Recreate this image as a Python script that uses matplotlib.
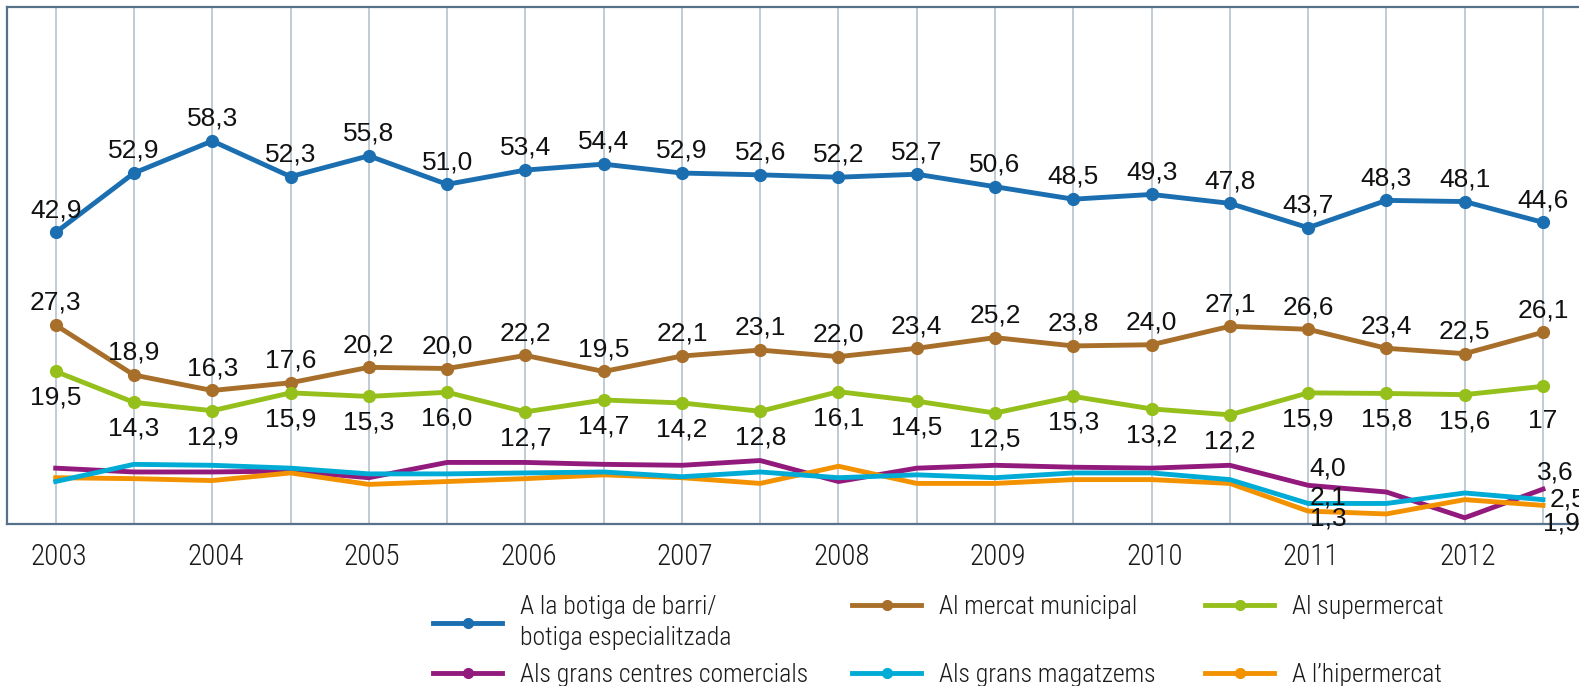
import numpy as np
import matplotlib
matplotlib.use("Agg")
import matplotlib.pyplot as plt
import matplotlib.transforms as mtransforms
from matplotlib.lines import Line2D
import logging
logging.getLogger("matplotlib.font_manager").setLevel(logging.ERROR)

# ---------------- data ----------------
periods = ["2003", "", "2004", "", "2005", "", "2006", "", "2007", "",
           "2008", "", "2009", "", "2010", "", "2011", "", "2012", ""]

botiga = [42.9, 52.9, 58.3, 52.3, 55.8, 51.0, 53.4, 54.4, 52.9, 52.6,
          52.2, 52.7, 50.6, 48.5, 49.3, 47.8, 43.7, 48.3, 48.1, 44.6]
mercat = [27.3, 18.9, 16.3, 17.6, 20.2, 20.0, 22.2, 19.5, 22.1, 23.1,
          22.0, 23.4, 25.2, 23.8, 24.0, 27.1, 26.6, 23.4, 22.5, 26.1]
supermercat = [19.5, 14.3, 12.9, 15.9, 15.3, 16.0, 12.7, 14.7, 14.2, 12.8,
               16.1, 14.5, 12.5, 15.3, 13.2, 12.2, 15.9, 15.8, 15.6, 17.0]
supermercat_label_override = {19: "17"}

# small series (drawn on their own scale, as in the original)
centres = [5.8, 5.4, 5.4, 5.5, 4.8, 6.4, 6.4, 6.2, 6.1, 6.6,
           4.4, 5.8, 6.1, 5.9, 5.8, 6.1, 4.0, 3.3, 0.6, 3.6]
magatzems = [4.4, 6.2, 6.1, 5.8, 5.2, 5.2, 5.3, 5.4, 4.9, 5.4,
             4.8, 5.1, 4.8, 5.3, 5.3, 4.6, 2.1, 2.1, 3.2, 2.5]
hipermercat = [4.8, 4.7, 4.5, 5.3, 4.1, 4.4, 4.7, 5.1, 4.8, 4.2,
               6.0, 4.2, 4.2, 4.6, 4.6, 4.2, 1.3, 1.0, 2.5, 1.9]
small_labeled_idx = [16, 19]

names = ["A la botiga de barri/\nbotiga especialitzada", "Al mercat municipal",
         "Al supermercat", "Als grans centres comercials",
         "Als grans magatzems", "A l\u2019hipermercat"]

# ---------------- style ----------------
C_BLUE = "#1b6fb1"
C_BROWN = "#a86f2b"
C_GREEN = "#95bf1b"
C_PURPLE = "#931a7d"
C_CYAN = "#00acd5"
C_ORANGE = "#f39200"
SPINE = "#56718a"
GRID = "#b5c2cd"

NARROW = ["Roboto Condensed", "Archivo Narrow", "PT Sans Narrow",
          "Liberation Sans", "DejaVu Sans"]
REG = ["Liberation Sans", "DejaVu Sans"]

W, H = 1579, 686
fig = plt.figure(figsize=(W / 100, H / 100), dpi=100)
left_px, top_px, bottom_px = 6.7, 7.3, 523.5
ax = fig.add_axes([left_px / W, 1 - bottom_px / H, 1 - left_px / W,
                   (bottom_px - top_px) / H])

x = np.arange(len(periods))
ax.set_xlim(-0.626, 19.46)
ax.set_ylim(-6.09, 80.8)

ax.set_xticks(x)
ax.set_xticklabels(periods, fontsize=21, family=NARROW, fontweight="light",
                   color="#1a1a1a")
ax.tick_params(axis="x", length=0, pad=14)
shift = mtransforms.ScaledTranslation(3 / 100, 0, fig.dpi_scale_trans)
for lbl in ax.get_xticklabels():
    lbl.set_transform(lbl.get_transform() + shift)
ax.set_yticks([])
ax.grid(axis="x", color=GRID, lw=1.2)
ax.set_axisbelow(True)
ax.spines["right"].set_visible(False)
for s in ["left", "top", "bottom"]:
    ax.spines[s].set_color(SPINE)
    ax.spines[s].set_linewidth(1.6)

LW = 3.5
MS = 8.5
LBL = 19


def fmt(v):
    return f"{v:.1f}".replace(".", ",")


def main_series(vals, color, above, overrides=None, dy_over=None, z=3):
    ax.plot(x, vals, color=color, lw=LW, marker="o", ms=MS, zorder=z)
    for i, v in enumerate(vals):
        txt = (overrides or {}).get(i, fmt(v))
        dy = (dy_over or {}).get(i, 16 if above else -19)
        ax.annotate(txt, (x[i], v), xytext=(0, dy), textcoords="offset points",
                    ha="center", va="center", fontsize=LBL, family=REG,
                    color="#111111", zorder=6)


main_series(botiga, C_BLUE, True, z=5)
main_series(mercat, C_BROWN, True, z=4)
main_series(supermercat, C_GREEN, False, supermercat_label_override,
            {19: -25}, z=4)

ax2 = ax.twinx()
ax2.set_ylim(0, 54.1)
ax2.set_yticks([])
for s in ax2.spines.values():
    s.set_visible(False)

ax2.plot(x, centres, color=C_PURPLE, lw=LW, zorder=2)
ax2.plot(x, hipermercat, color=C_ORANGE, lw=LW, zorder=3)
ax2.plot(x, magatzems, color=C_CYAN, lw=LW, zorder=4)


def small_label(vals, i, dx, dy, ha):
    ax2.annotate(fmt(vals[i]), (x[i], vals[i]), xytext=(dx, dy),
                 textcoords="offset points", ha=ha, va="center",
                 fontsize=LBL, family=REG, color="#111111", zorder=6)


for i in small_labeled_idx:
    if i == 16:
        small_label(centres, i, 1, 12, "left")
        small_label(magatzems, i, 1, 4, "left")
        small_label(hipermercat, i, 1, -5, "left")
    else:
        small_label(centres, i, 9, 12, "center")
        small_label(magatzems, i, 5, 0, "left")
        small_label(hipermercat, i, 0, -13, "left")

# ---------------- legend ----------------
colors = [C_BLUE, C_BROWN, C_GREEN, C_PURPLE, C_CYAN, C_ORANGE]
col_x = [433, 852, 1205]
row_y = [595, 663]
for k, (name, col) in enumerate(zip(names, colors)):
    r, c = divmod(k, 3)
    h = Line2D([], [], color=col, lw=LW, marker="o", ms=7)
    leg = fig.legend([h], [name], loc="upper left",
                     bbox_to_anchor=(col_x[c] / W, 1 - row_y[r] / H),
                     frameon=False, borderpad=0, borderaxespad=0,
                     handlelength=2.7, handletextpad=0.7, numpoints=1,
                     prop={"family": NARROW, "size": 18.5, "weight": "light"},
                     labelcolor="#1a1a1a")
    for t in leg.get_texts():
        t.set_linespacing(1.35)

fig.savefig("out.png", dpi=100)
